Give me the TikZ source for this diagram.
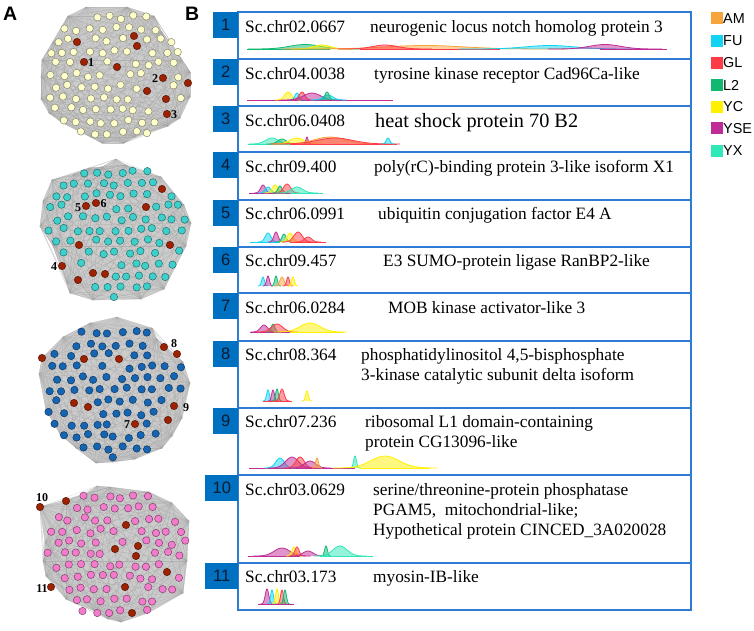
\documentclass[tikz,border=0pt]{standalone}
\usepackage{fontspec}
\setmainfont{Liberation Serif}
\setsansfont{Liberation Sans}
\definecolor{cAM}{HTML}{F7A43C}
\definecolor{cFU}{HTML}{12D3F2}
\definecolor{cGL}{HTML}{FF3B47}
\definecolor{cL2}{HTML}{10B870}
\definecolor{cYC}{HTML}{FFF000}
\definecolor{cYSE}{HTML}{C02C96}
\definecolor{cYX}{HTML}{2EE8B8}
\definecolor{boxblue}{HTML}{0070C0}
\definecolor{tblue}{HTML}{2E7BD6}
\definecolor{numtext}{HTML}{0C1A30}
\definecolor{cream}{HTML}{FFFFCC}
\definecolor{turq}{HTML}{3DD0CB}
\definecolor{nblue}{HTML}{1565B2}
\definecolor{pinkn}{HTML}{F27BCB}
\definecolor{rednode}{HTML}{9E2102}

\newcommand\rowbase{0}
\newcommand\pk[4]{%
  \pgfmathsetmacro\pka{#2-2.6*#3}\pgfmathsetmacro\pkb{#2+2.6*#3}%
  \filldraw[draw=#1,fill=#1,fill opacity=0.5,line width=0.8pt,line join=round]
    plot[domain=\pka:\pkb,samples=31,smooth] (\x,{\rowbase-#4*exp(-((\x-#2)/#3)^2)});}
\newcommand\tail[3]{\draw[#1,line width=1pt] (#2,\rowbase) -- (#3,\rowbase);}

\newcommand\netw[7]{%
  \pgfmathsetseed{#6}%
  \foreach \i in {-7,...,7}{%
    \foreach \j in {-7,...,7}{%
      \pgfmathsetmacro\px{#1+13*\i+6.5*mod(\j+20,2)+2.4*rand}%
      \pgfmathsetmacro\py{#2+11.5*\j+2.4*rand}%
      \pgfmathtruncatemacro\tmpin{((\px-#1)/#3)^2+((\py-#2)/#4)^2<1}%
      \global\let\keepnode\tmpin
      \foreach \ex/\ey in {#7}{%
        \pgfmathtruncatemacro\tmpnr{veclen(\px-\ex,\py-\ey)<9.5}%
        \ifnum\tmpnr=1 \gdef\keepnode{0}\fi
      }%
      \ifnum\keepnode=1 \node[netnode=#5] (n#6-\i-\j) at (\px,\py) {};\fi
    }}}

\newcommand\hullA{(127,7),(154,16),(162,32),(182,60),(190,72),(190,97),(180,118),(168,126),(135,137),(124,143),(102,143),(91,137),(61,122),(49,113),(41,99),(41,77),(42,60),(53,42),(68,16)}
\newcommand\hullB{(126,165),(161,177),(184,205),(191,223),(186,246),(164,289),(141,299),(93,300),(70,293),(67,283),(53,246),(40,226),(43,201),(52,180),(74,174),(89,168),(102,167)}
\newcommand\hullC{(152,328),(157,339),(183,362),(190,383),(182,418),(172,436),(162,448),(135,459),(113,462),(96,463),(76,448),(60,434),(46,410),(39,374),(42,358),(63,337),(90,323)}
\newcommand\hullD{(110,487),(149,492),(172,503),(189,521),(187,561),(183,593),(148,613),(121,622),(108,619),(95,611),(66,599),(46,576),(43,561),(45,542),(40,507),(66,501),(83,495)}

\newcommand\hull[2]{%
  \fill[gray!40] #1 \foreach \p in #2 {-- \p} -- cycle;
  \foreach \a in #2 {\foreach \b in #2 {\draw[gray!70,line width=0.3pt,opacity=0.4] \a -- \b;}}
  \foreach \b in #2 {\draw[gray!70,line width=0.3pt,opacity=0.4] #1 -- \b;}
}

\tikzset{
  netnode/.style={circle,inner sep=0pt,minimum size=7.4pt,fill=#1,draw=#1!50!black,line width=0.45pt},
  nlab/.style={font=\bfseries\fontsize{12}{12}\selectfont,inner sep=0pt},
  numbox/.style={rectangle,fill=boxblue,minimum width=25pt,minimum height=26pt,inner sep=0pt,anchor=north east,
    font=\sffamily\fontsize{16.5}{16.5}\selectfont,text=numtext},
  idtxt/.style={anchor=base west,inner sep=0pt,font=\fontsize{17.3}{20}\selectfont},
  desc/.style={anchor=base west,inner sep=0pt,font=\fontsize{17.3}{20}\selectfont},
  tbl/.style={draw=tblue,line width=1.4pt},
  divl/.style={draw=tblue,line width=1.1pt},
  legsq/.style={rectangle,minimum size=12pt,inner sep=0pt},
  legtxt/.style={anchor=west,inner sep=0pt,font=\sffamily\fontsize{14.4}{14.4}\selectfont},
  panel/.style={anchor=base west,inner sep=0pt,font=\sffamily\bfseries\fontsize{19.5}{20}\selectfont}
}

\begin{document}
\begin{tikzpicture}[x=1pt,y=-1pt]
\useasboundingbox (0,0) rectangle (754,630);

% ---------- panel labels
\node[panel] (labA) at (3,20) {A};
\node[panel] (labB) at (185,20) {B};

% ---------- networks
\hull{(86,7)}{\hullA}
\hull{(116,159)}{\hullB}
\hull{(117,317)}{\hullC}
\hull{(97,486)}{\hullD}

\netw{115}{75}{72}{66}{cream}{11}{77/42,134/36,137/46,84/62,117/67,163/78,188/83,147/91,166/99,167/114,91/62,155/78,174/114}
\netw{115}{230}{72}{68}{turq}{22}{162/189,146/207,86/206,96/203,79/245,170/245,62/266,93/273,105/274,78/280,79/207,103/203,54/266}
\netw{115}{390}{72}{69}{nblue}{33}{42/358,84/359,119/359,164/347,177/354,74/403,88/407,174/406,168/420,135/424,174/343,186/407,127/424}
\netw{115}{554}{72}{66}{pinkn}{44}{40/507,66/501,126/525,115/549,138/546,136/556,167/572,51/587,125/587,132/613,42/497,42/588}

% red nodes
\foreach \x/\y [count=\k] in {77/42,134/36,137/46,84/62,117/67,163/78,188/83,147/91,166/99,167/114,
  162/189,146/207,86/206,96/203,79/245,170/245,62/266,93/273,105/274,78/280,
  42/358,84/359,119/359,164/347,177/354,74/403,88/407,174/406,168/420,135/424,
  40/507,66/501,126/525,115/549,138/546,136/556,167/572,51/587,125/587,132/613}
  {\node[netnode=rednode] (red\k) at (\x,\y) {};}

% network labels
\node[nlab] (l1) at (91,62.5) {1};
\node[nlab] (l2) at (155,78.5) {2};
\node[nlab] (l3) at (174,114.5) {3};
\node[nlab] (l5) at (78,207.5) {5};
\node[nlab] (l6) at (103.5,203.5) {6};
\node[nlab] (l4) at (54,266.5) {4};
\node[nlab] (l8) at (174,343.5) {8};
\node[nlab] (l9) at (186,407.5) {9};
\node[nlab] (l7) at (127,424.5) {7};
\node[nlab] (l10) at (42,497.5) {10};
\node[nlab] (l11) at (42,588.5) {11};

% ---------- table
\draw[tbl] (238,12) rectangle (691,610);
\foreach \yy in {59,106,152,200,247,293,341,408,475,563} {\draw[divl] (238,\yy) -- (691,\yy);}

\foreach \t/\yy in {1/12,2/59,3/106,4/152,5/200,6/247,7/293,8/341,9/408} {\node[numbox] (nb\t) at (238.5,\yy) {\t};}
\node[numbox,minimum width=33pt] (nb10) at (238.5,475) {10};
\node[numbox,minimum width=33pt] (nb11) at (238.5,563) {11};

% ids
\node[idtxt] (id1) at (245,32) {Sc.chr02.0667};
\node[idtxt] (id2) at (245,79) {Sc.chr04.0038};
\node[idtxt] (id3) at (245,126.5) {Sc.chr06.0408};
\node[idtxt] (id4) at (245,172) {Sc.chr09.400};
\node[idtxt] (id5) at (245,219.5) {Sc.chr06.0991};
\node[idtxt] (id6) at (245,266.5) {Sc.chr09.457};
\node[idtxt] (id7) at (245,313) {Sc.chr06.0284};
\node[idtxt] (id8) at (245,360.5) {Sc.chr08.364};
\node[idtxt] (id9) at (245,427.5) {Sc.chr07.236};
\node[idtxt] (id10) at (245,495) {Sc.chr03.0629};
\node[idtxt] (id11) at (245,582.5) {Sc.chr03.173};

% descriptions
\node[desc] (d1) at (370,32) {neurogenic locus notch homolog protein 3};
\node[desc] (d2) at (374,79) {tyrosine kinase receptor Cad96Ca-like};
\node[desc,font=\fontsize{20.3}{22}\selectfont] (d3) at (375,127) {heat shock protein 70 B2};
\node[desc] (d4) at (374,172) {poly(rC)-binding protein 3-like isoform X1};
\node[desc] (d5) at (378,219.5) {ubiquitin conjugation factor E4 A};
\node[desc] (d6) at (383,266.5) {E3 SUMO-protein ligase RanBP2-like};
\node[desc] (d7) at (388,313) {MOB kinase activator-like 3};
\node[desc] (d8a) at (361,360.5) {phosphatidylinositol 4,5-bisphosphate};
\node[desc] (d8b) at (361,380.5) {3-kinase catalytic subunit delta isoform};
\node[desc] (d9a) at (365,427.5) {ribosomal L1 domain-containing};
\node[desc] (d9b) at (365,447.5) {protein CG13096-like};
\node[desc] (d10a) at (373,495) {serine/threonine-protein phosphatase};
\node[desc] (d10b) at (373,515) {PGAM5,\ \ mitochondrial-like;};
\node[desc] (d10c) at (373,535) {Hypothetical protein CINCED\_3A020028};
\node[desc] (d11) at (373,582.5) {myosin-IB-like};

% ---------- density curves
\renewcommand\rowbase{49}
\tail{cL2}{247}{330}
\pk{cL2}{305}{22}{4.5}
\pk{cYC}{322}{12}{4}
\pk{cAM}{425}{55}{3.5}
\pk{cGL}{385}{18}{4}
\tail{cGL}{360}{500}
\pk{cFU}{550}{35}{3.5}
\pk{cYSE}{605}{22}{4.5}
\tail{cYSE}{600}{667}

\renewcommand\rowbase{100}
\tail{cYSE}{247}{393}
\pk{cYC}{288}{5}{8}
\pk{cFU}{297}{3}{7}
\pk{cGL}{302}{4}{8}
\pk{cYSE}{312}{12}{7}
\pk{cFU}{328}{7}{5}
\pk{cL2}{327}{3}{8}

\renewcommand\rowbase{144}
\tail{cYX}{248}{290}
\pk{cYX}{272}{9}{6}
\pk{cL2}{282}{6}{5}
\pk{cYC}{297}{10}{6}
\pk{cYSE}{307}{1.5}{7}
\pk{cAM}{330}{22}{7}
\pk{cGL}{335}{25}{6}
\tail{cGL}{290}{397}
\pk{cFU}{388}{2.5}{6}

\renewcommand\rowbase{193}
\tail{cYSE}{249}{300}
\pk{cYSE}{263}{3.5}{8}
\pk{cFU}{268}{4}{6}
\pk{cYC}{275}{4}{8}
\pk{cL2}{280}{3}{7}
\pk{cGL}{287}{5}{9}
\pk{cYX}{297}{8}{6}
\tail{cYX}{290}{323}

\renewcommand\rowbase{242}
\tail{cFU}{250}{280}
\pk{cFU}{268}{4}{9}
\pk{cYSE}{276}{3}{10}
\pk{cL2}{284}{3}{8}
\pk{cYC}{290}{4}{9}
\pk{cGL}{298}{6}{10}
\pk{cGL}{308}{5}{5}
\tail{cGL}{290}{326}

\renewcommand\rowbase{286}
\pk{cFU}{263}{2}{9}
\pk{cYSE}{268}{2}{10}
\pk{cL2}{276}{2}{10}
\pk{cAM}{282}{3}{9}
\pk{cGL}{288}{2}{9}
\pk{cYC}{293}{2}{9}

\renewcommand\rowbase{332}
\tail{cYSE}{250}{300}
\pk{cYSE}{264}{5}{7}
\pk{cL2}{273}{2.5}{8}
\pk{cGL}{277}{8}{8}
\pk{cYC}{310}{14}{9}
\tail{cYC}{290}{344}

\renewcommand\rowbase{401}
\pk{cFU}{268}{2}{11}
\pk{cYSE}{273}{2}{11}
\pk{cL2}{277}{2}{12}
\pk{cGL}{282}{3}{12}
\tail{cGL}{263}{292}
\pk{cYC}{307}{2}{10}

\renewcommand\rowbase{468}
\tail{cYSE}{249}{355}
\pk{cFU}{280}{6}{10}
\pk{cYSE}{292}{9}{11}
\pk{cGL}{300}{6}{11}
\pk{cYSE}{310}{8}{7}
\pk{cAM}{317}{2}{10}
\pk{cYX}{355}{2}{12}
\pk{cYC}{385}{20}{12}
\tail{cYC}{360}{430}

\renewcommand\rowbase{556}
\tail{cYSE}{248}{300}
\pk{cYSE}{282}{11}{8}
\pk{cYC}{294}{3}{9}
\pk{cGL}{297}{3}{9}
\pk{cYSE}{308}{7}{5}
\pk{cL2}{326}{2}{10}
\pk{cYX}{340}{10}{10}
\tail{cYX}{320}{373}

\renewcommand\rowbase{604}
\pk{cYSE}{267}{2.5}{15}
\pk{cFU}{272}{2}{14}
\pk{cYC}{277}{2}{15}
\pk{cGL}{282}{2}{14}
\pk{cL2}{285}{2}{14}
\tail{cYSE}{258}{294}

% ---------- legend
\foreach \c/\lab/\yy in {cAM/AM/18,cFU/FU/40.5,cGL/GL/62.5,cL2/L2/84.5,cYC/YC/106.5,cYSE/YSE/128,cYX/YX/150.5}
{
  \node[legsq,fill=\c] (sq\lab) at (716.5,\yy) {};
  \node[legtxt] (tx\lab) at (723,\yy+0.5) {\lab};
}
\end{tikzpicture}
\end{document}
